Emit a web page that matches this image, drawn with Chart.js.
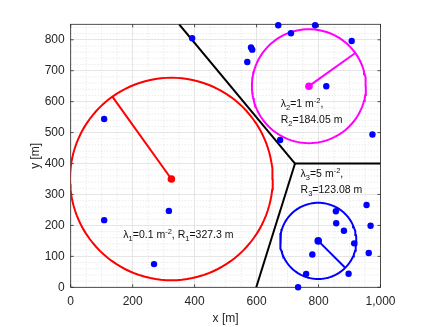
<!DOCTYPE html>
<html>
<head>
<meta charset="utf-8">
<script src="https://cdn.jsdelivr.net/npm/chart.js@4.4.1/dist/chart.umd.min.js"></script>
<style>
  body { margin: 0; background: #fff; }
  canvas { display: block; }
</style>
</head>
<body>
<canvas id="chart" width="436" height="327"></canvas>
<script>
// user positions (blue dots)
const userX = [108, 392, 670, 789, 711, 582, 586, 570, 907, 825, 974, 676,
  108, 317, 269, 955, 968, 856, 857, 882, 915, 962, 780, 897, 760, 734];
const userY = [544, 805, 847, 847, 821, 775, 768, 728, 796, 650, 494, 476,
  217, 247, 75, 266, 199, 246, 207, 183, 142, 111, 106, 44, 43, 0];

// one base station per cell
const cellColors = ["#ff0000", "#ff00ff", "#0000ff"];
const centerX = [325, 769, 799];
const centerY = [350, 650, 150];
const lambdas = [0.1, 1, 5];
const radii = [327.3, 184.05, 123.08];
const radiusAngle = [125.6, 35.6, -45];

// cell boundaries
const edgesX = [[350, 724], [724, 1000], [724, 599]];
const edgesY = [[850, 400], [400, 400], [400, 0]];

const xTicks = [0, 200, 400, 600, 800, 1000];
const yTicks = [0, 100, 200, 300, 400, 500, 600, 700, 800];

// where the lambda / R notes sit (data units, first baseline)
const noteX = [170, 678, 742];
const noteY = [158, 583, 355];

const FONT = '"Liberation Sans", Helvetica, Arial, sans-serif';
const AXIS = "#262626";

function circlePts(cx, cy, r) {
  const pts = [];
  for (let i = 0; i <= 120; i++) {
    const a = i / 120 * 2 * Math.PI;
    pts.push({ x: cx + r * Math.cos(a), y: cy + r * Math.sin(a) });
  }
  return pts;
}

const datasets = [];

datasets.push({
  label: "users",
  data: userX.map((x, i) => ({ x, y: userY[i] })),
  backgroundColor: "#0000ff", borderWidth: 0,
  pointRadius: 3.2, showLine: false, clip: false, order: 0
});

datasets.push({
  label: "centers",
  data: centerX.map((x, i) => ({ x, y: centerY[i] })),
  backgroundColor: cellColors, borderWidth: 0,
  pointRadius: 3.8, showLine: false, clip: false, order: 1
});

centerX.forEach((cx, i) => {
  const a = radiusAngle[i] * Math.PI / 180;
  datasets.push({
    label: "circle" + (i + 1),
    data: circlePts(cx, centerY[i], radii[i]),
    borderColor: cellColors[i], borderWidth: 2, pointRadius: 0,
    showLine: true, order: 2
  });
  datasets.push({
    label: "radius" + (i + 1),
    data: [{ x: cx, y: centerY[i] },
      { x: cx + radii[i] * Math.cos(a), y: centerY[i] + radii[i] * Math.sin(a) }],
    borderColor: cellColors[i], borderWidth: 2, pointRadius: 0,
    showLine: true, order: 2
  });
});

edgesX.forEach((xs, i) => {
  datasets.push({
    label: "edge" + (i + 1),
    data: xs.map((x, j) => ({ x, y: edgesY[i][j] })),
    borderColor: "#000", borderWidth: 2, pointRadius: 0,
    showLine: true, order: 3
  });
});

function drawRich(ctx, x, y, parts) {
  let cx = x;
  parts.forEach(([t, k]) => {
    ctx.font = (k ? "7.5px " : "10.5px ") + FONT;
    const dy = k === 1 ? 3 : k === 2 ? -4 : 0;
    ctx.fillText(t, cx, y + dy);
    cx += ctx.measureText(t).width;
  });
}

const matlabAxes = {
  id: "matlabAxes",
  beforeDraw(chart) {
    const { ctx, chartArea: a, scales: { x, y } } = chart;
    ctx.save();
    ctx.strokeStyle = "#cfcfcf";
    ctx.lineWidth = 0.6;
    ctx.setLineDash([1, 2]);
    ctx.beginPath();
    for (let v = 50; v < 1000; v += 50) {
      if (v % 200 === 0) continue;
      const px = x.getPixelForValue(v);
      ctx.moveTo(px, a.top); ctx.lineTo(px, a.bottom);
    }
    for (let v = 20; v < 850; v += 20) {
      if (v % 100 === 0) continue;
      const py = y.getPixelForValue(v);
      ctx.moveTo(a.left, py); ctx.lineTo(a.right, py);
    }
    ctx.stroke();
    ctx.restore();
  },
  beforeDatasetsDraw(chart) {
    const { ctx, chartArea: a, scales: { x, y } } = chart;
    ctx.save();
    ctx.strokeStyle = AXIS;
    ctx.lineWidth = 0.8;
    ctx.strokeRect(a.left, a.top, a.right - a.left, a.bottom - a.top);
    ctx.beginPath();
    xTicks.forEach(v => {
      const px = x.getPixelForValue(v);
      ctx.moveTo(px, a.bottom); ctx.lineTo(px, a.bottom - 3);
      ctx.moveTo(px, a.top); ctx.lineTo(px, a.top + 3);
    });
    yTicks.forEach(v => {
      const py = y.getPixelForValue(v);
      ctx.moveTo(a.left, py); ctx.lineTo(a.left + 3, py);
      ctx.moveTo(a.right, py); ctx.lineTo(a.right - 3, py);
    });
    ctx.stroke();
    ctx.restore();
  },
  afterDatasetsDraw(chart) {
    const { ctx, scales: { x, y } } = chart;
    ctx.save();
    ctx.fillStyle = "#111";
    ctx.textBaseline = "alphabetic";
    const px = i => x.getPixelForValue(noteX[i]);
    const py = i => y.getPixelForValue(noteY[i]);
    drawRich(ctx, px(0), py(0), [["\u03bb"], ["1", 1], ["=" + lambdas[0] + " m"], ["-2", 2],
      [", R"], ["1", 1], ["=" + radii[0] + " m"]]);
    [1, 2].forEach(i => {
      const n = String(i + 1);
      drawRich(ctx, px(i), py(i), [["\u03bb"], [n, 1], ["=" + lambdas[i] + " m"], ["-2", 2], [","]]);
      drawRich(ctx, px(i), py(i) + 16, [["R"], [n, 1], ["=" + radii[i].toFixed(2) + " m"]]);
    });
    ctx.restore();
  }
};

new Chart(document.getElementById("chart").getContext("2d"), {
  type: "scatter",
  data: { datasets },
  options: {
    responsive: false,
    animation: false,
    events: [],
    layout: { padding: { left: 0, top: 24.3, right: 55.5, bottom: 0 } },
    plugins: { legend: { display: false }, tooltip: { enabled: false } },
    scales: {
      x: {
        type: "linear", min: 0, max: 1000,
        afterBuildTicks: s => { s.ticks = xTicks.map(v => ({ value: v })); },
        afterFit: s => { s.height = 39.7; },
        grid: { color: "#e0e0e0", lineWidth: 0.8, drawTicks: false },
        border: { display: false },
        ticks: { padding: 7, maxRotation: 0, color: AXIS, font: { family: FONT, size: 12 } },
        title: { display: true, text: "x [m]", color: AXIS, padding: { top: 0, bottom: 1 },
          font: { family: FONT, size: 12 } }
      },
      y: {
        type: "linear", min: 0, max: 850,
        afterBuildTicks: s => { s.ticks = yTicks.map(v => ({ value: v })); },
        afterFit: s => { s.width = 70.7; },
        grid: { color: "#e0e0e0", lineWidth: 0.8, drawTicks: false },
        border: { display: false },
        ticks: { padding: 6, color: AXIS, font: { family: FONT, size: 12 } },
        title: { display: true, text: "y [m]", color: AXIS, padding: { top: 28, bottom: 0 },
          font: { family: FONT, size: 12 } }
      }
    }
  },
  plugins: [matlabAxes]
});
</script>
</body>
</html>
